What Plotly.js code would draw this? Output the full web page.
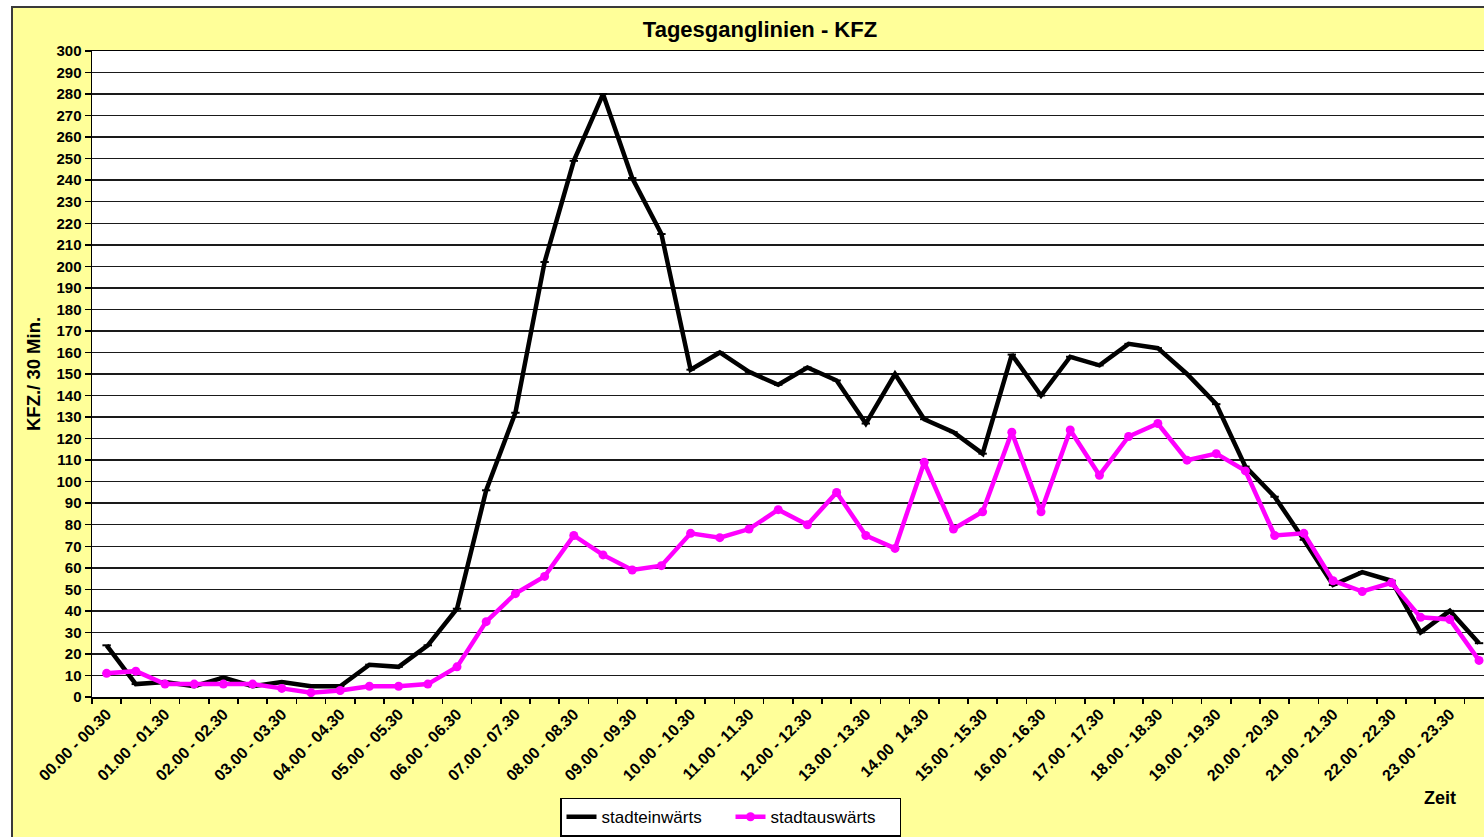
<!DOCTYPE html>
<html>
<head>
<meta charset="utf-8">
<script src="https://cdn.plot.ly/plotly-3.0.1.min.js"></script>
<style>
html,body{margin:0;padding:0;background:#fff;overflow:hidden;width:1484px;height:837px;}
#frame{position:absolute;left:11px;top:6px;width:1500px;height:860px;background:#FFFF99;border:2px solid #3a3a3a;box-sizing:border-box;}
#chart{position:absolute;left:0;top:0;width:1484px;height:837px;}
</style>
</head>
<body>
<div id="frame"></div>
<div id="chart"></div>
<script>
const categories = [
  "00.00 - 00.30","00.30 - 01.00","01.00 - 01.30","01.30 - 02.00",
  "02.00 - 02.30","02.30 - 03.00","03.00 - 03.30","03.30 - 04.00",
  "04.00 - 04.30","04.30 - 05.00","05.00 - 05.30","05.30 - 06.00",
  "06.00 - 06.30","06.30 - 07.00","07.00 - 07.30","07.30 - 08.00",
  "08.00 - 08.30","08.30 - 09.00","09.00 - 09.30","09.30 - 10.00",
  "10.00 - 10.30","10.30 - 11.00","11.00 - 11.30","11.30 - 12.00",
  "12.00 - 12.30","12.30 - 13.00","13.00 - 13.30","13.30 - 14.00",
  "14.00 - 14.30","14.30 - 15.00","15.00 - 15.30","15.30 - 16.00",
  "16.00 - 16.30","16.30 - 17.00","17.00 - 17.30","17.30 - 18.00",
  "18.00 - 18.30","18.30 - 19.00","19.00 - 19.30","19.30 - 20.00",
  "20.00 - 20.30","20.30 - 21.00","21.00 - 21.30","21.30 - 22.00",
  "22.00 - 22.30","22.30 - 23.00","23.00 - 23.30","23.30 - 24.00"
];

const tickLabels = [
  "00.00 - 00.30","01.00 - 01.30","02.00 - 02.30","03.00 - 03.30",
  "04.00 - 04.30","05.00 - 05.30","06.00 - 06.30","07.00 - 07.30",
  "08.00 - 08.30","09.00 - 09.30","10.00 - 10.30","11.00 - 11.30",
  "12.00 - 12.30","13.00 - 13.30","14.00  14.30","15.00 - 15.30",
  "16.00 - 16.30","17.00 - 17.30","18.00 - 18.30","19.00 - 19.30",
  "20.00 - 20.30","21.00 - 21.30","22.00 - 22.30","23.00 - 23.30"
];

const stadteinwaerts = [
  24, 6, 7, 5, 9, 5, 7, 5, 5, 15, 14, 24,
  41, 96, 132, 202, 249, 280, 241, 215, 152, 160, 151, 145,
  153, 147, 127, 150, 129, 123, 113, 159, 140, 158, 154, 164,
  162, 150, 136, 107, 93, 73, 52, 58, 54, 30, 40, 25
];

const stadtauswaerts = [
  11, 12, 6, 6, 6, 6, 4, 2, 3, 5, 5, 6,
  14, 35, 48, 56, 75, 66, 59, 61, 76, 74, 78, 87,
  80, 95, 75, 69, 109, 78, 86, 123, 86, 124, 103, 121,
  127, 110, 113, 105, 75, 76, 54, 49, 53, 37, 36, 17
];

const seriesNames = ["stadteinwärts", "stadtauswärts"];

const tickText = categories.map((c, i) => (i % 2 === 0 ? tickLabels[i / 2] : ""));

const FONT = "Liberation Sans, Arial, sans-serif";

const traces = [
  {
    x: categories, y: stadteinwaerts, name: seriesNames[0],
    type: "scatter", mode: "lines+markers",
    line: {color: "#000000", width: 4.5},
    marker: {symbol: "line-ew", size: 6, color: "#000000", line: {color: "#000000", width: 2}}
  },
  {
    x: categories, y: stadtauswaerts, name: seriesNames[1],
    type: "scatter", mode: "lines+markers",
    line: {color: "#FF00FF", width: 4.5},
    marker: {symbol: "circle", size: 9, color: "#FF00FF"}
  }
];

const layout = {
  width: 1484, height: 837,
  margin: {l: 92, r: 0, t: 51, b: 138, pad: 0},
  paper_bgcolor: "rgba(0,0,0,0)",
  plot_bgcolor: "#ffffff",
  showlegend: true,
  font: {family: FONT, color: "#000"},
  title: {
    text: "<b>Tagesganglinien - KFZ</b>",
    font: {family: FONT, size: 22, color: "#000"},
    xref: "container", x: 760 / 1484, xanchor: "center",
    yref: "container", y: 1 - 29 / 837, yanchor: "middle"
  },
  xaxis: {
    type: "category",
    range: [-0.5, 47.17],
    tickmode: "array",
    tickvals: categories,
    ticktext: tickText,
    tickson: "boundaries",
    ticks: "outside", ticklen: 5, tickwidth: 1.5, tickcolor: "#000",
    tickangle: -45,
    tickfont: {family: FONT, size: 16, color: "#000", weight: "bold"},
    showgrid: false,
    showline: true, linecolor: "#000", linewidth: 1.5, mirror: true,
    zeroline: false,
    fixedrange: true
  },
  yaxis: {
    range: [0, 300],
    tickmode: "linear", tick0: 0, dtick: 10,
    ticks: "outside", ticklen: 6, tickwidth: 1.5, tickcolor: "#000",
    tickfont: {family: FONT, size: 15, color: "#000", weight: "bold"},
    showgrid: true, gridcolor: "#1a1a1a", gridwidth: 1.5,
    showline: true, linecolor: "#000", linewidth: 1.5,
    zeroline: false,
    fixedrange: true
  },
  legend: {
    orientation: "h",
    x: (560 - 92) / 1392, xanchor: "left",
    y: (699 - 800) / 648, yanchor: "top",
    bgcolor: "#ffffff", bordercolor: "#000", borderwidth: 1.5,
    font: {family: FONT, size: 17, color: "#000"},
    itemwidth: 30, tracegroupgap: 0, entrywidth: 124
  },
  annotations: [
    {
      text: "<b>KFZ./ 30 Min.</b>", textangle: -90,
      xref: "paper", yref: "paper",
      x: (33 - 92) / 1392, y: (699 - 375) / 648,
      xanchor: "center", yanchor: "middle", showarrow: false,
      font: {family: FONT, size: 18.5, color: "#000"}
    },
    {
      text: "<b>Zeit</b>",
      xref: "paper", yref: "paper",
      x: (1440 - 92) / 1392, y: (699 - 800) / 648,
      xanchor: "center", yanchor: "middle", showarrow: false,
      font: {family: FONT, size: 18, color: "#000"}
    }
  ]
};

Plotly.newPlot("chart", traces, layout, {displayModeBar: false, staticPlot: true});
</script>
</body>
</html>
